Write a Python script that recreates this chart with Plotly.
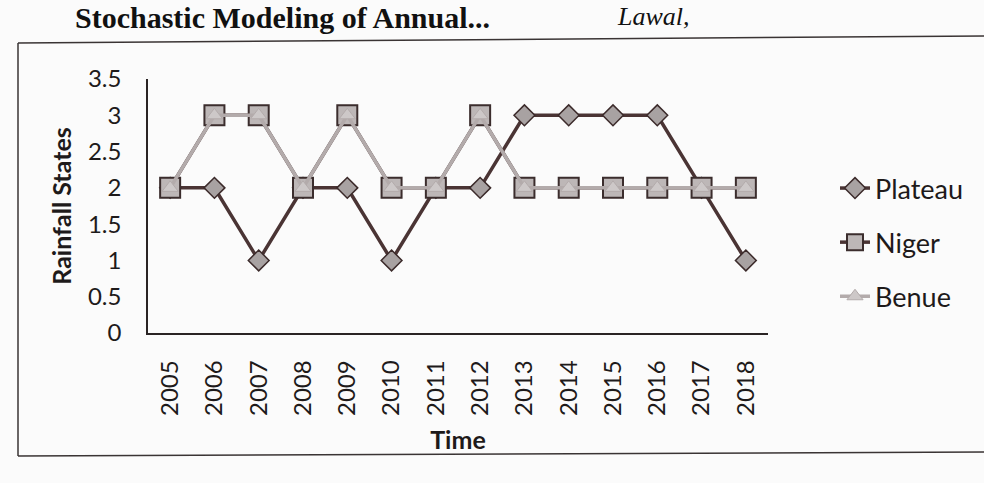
import plotly.graph_objects as go

years = ["2005", "2006", "2007", "2008", "2009", "2010", "2011",
         "2012", "2013", "2014", "2015", "2016", "2017", "2018"]
plateau = [2, 2, 1, 2, 2, 1, 2, 2, 3, 3, 3, 3, 2, 1]
niger = [2, 3, 3, 2, 3, 2, 2, 3, 2, 2, 2, 2, 2, 2]
benue = [2, 3, 3, 2, 3, 2, 2, 3, 2, 2, 2, 2, 2, 2]
y_ticks = [0, 0.5, 1, 1.5, 2, 2.5, 3, 3.5]
y_tick_labels = ["0", "0.5", "1", "1.5", "2", "2.5", "3", "3.5"]

FONT = "Lato"
INK = "#1e1a1a"

W, H = 984, 483
# plot area in page pixels
L, R = 148, 768
T, B = 79, 333


def px_x(p):
    return (p - L) / (R - L)


def px_y(p):
    return (B - p) / (B - T)


fig = go.Figure()
fig.add_trace(go.Scatter(
    x=years, y=plateau, name="Plateau", mode="lines+markers", legendgroup="a",
    line=dict(color="#4a3434", width=3.5),
    marker=dict(symbol="diamond", size=16, color="#a8a2a2",
                line=dict(color="#3b2a2a", width=1.5)),
))
fig.add_trace(go.Scatter(
    x=years, y=niger, name="Niger", mode="lines+markers", legendgroup="b",
    line=dict(color="#4a3434", width=3.5),
    marker=dict(symbol="square", size=20, color="#bdb7b7",
                line=dict(color="#3b2d2d", width=2)),
))
fig.add_trace(go.Scatter(
    x=years, y=benue, name="Benue", mode="lines+markers", legendgroup="c",
    line=dict(color="#b3abab", width=3.5),
    marker=dict(symbol="triangle-up", size=14, color="#cdc8c8",
                line=dict(color="#b3abab", width=1)),
))

# page border of the photographed figure
for x0, y0, x1, y1 in [(18, 43, 18, 456), (18, 43, 984, 36), (18, 456, 984, 452)]:
    fig.add_shape(type="line", xref="paper", yref="paper",
                  x0=px_x(x0), y0=px_y(y0), x1=px_x(x1), y1=px_y(y1),
                  line=dict(color="#3a3434", width=1.5))

fig.add_annotation(text="<b>Stochastic Modeling of Annual...</b>",
                   xref="paper", yref="paper", x=px_x(73), y=px_y(18),
                   xanchor="left", yanchor="middle", showarrow=False,
                   font=dict(family="Liberation Serif", size=30, color="#111"))
fig.add_annotation(text="<i>Lawal,</i>",
                   xref="paper", yref="paper", x=px_x(615), y=px_y(16),
                   xanchor="left", yanchor="middle", showarrow=False,
                   font=dict(family="Liberation Serif", size=26, color="#111"))

fig.update_layout(
    width=W, height=H,
    margin=dict(l=L, r=W - R, t=T, b=H - B),
    paper_bgcolor="#fbfbfb", plot_bgcolor="#fbfbfb",
    font=dict(family=FONT, size=24, color=INK),
    showlegend=True,
    legend=dict(x=px_x(835), y=px_y(164), xanchor="left", yanchor="top",
                font=dict(family=FONT, size=27, color=INK),
                tracegroupgap=16, bgcolor="rgba(0,0,0,0)"),
    xaxis=dict(type="category", range=[-0.5, 13.5], tickangle=-90,
               showline=True, linecolor="#2a2424", linewidth=1.5,
               showgrid=False, ticks="", zeroline=False,
               ticklabelstandoff=16,
               tickfont=dict(family=FONT, size=24, color=INK),
               title=dict(text="<b>Time</b>", standoff=16,
                          font=dict(family=FONT, size=25, color=INK))),
    yaxis=dict(range=[0, 3.5], tickvals=y_ticks, ticktext=y_tick_labels,
               showline=True, linecolor="#2a2424", linewidth=1.5,
               showgrid=False, ticks="", zeroline=False,
               ticklabelstandoff=20,
               tickfont=dict(family=FONT, size=24, color=INK),
               title=dict(text="<b>Rainfall States</b>", standoff=9,
                          font=dict(family=FONT, size=25, color=INK))),
)

fig.write_html(
    "out.html",
    config={"displayModeBar": False},
    post_script="document.body.style.margin='0';document.body.style.overflow='hidden';",
)
